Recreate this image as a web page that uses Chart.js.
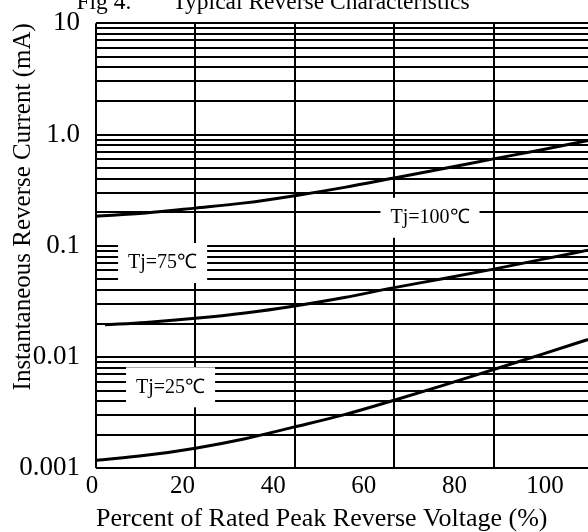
<!DOCTYPE html>
<html><head><meta charset="utf-8">
<script src="https://cdn.jsdelivr.net/npm/chart.js@4"></script>
<style>
html,body{margin:0;padding:0;background:#fff;overflow:hidden;width:588px;height:532px;position:relative}
#wrap{position:absolute;left:0;top:-16px;width:593px;height:550px}
</style></head><body>
<div id="wrap"><canvas id="c"></canvas></div>
<script>
const chartTitle = 'Fig 4.\u00a0\u00a0\u00a0\u00a0\u00a0\u00a0\u00a0Typical Reverse Characteristics\u00a0\u00a0\u00a0\u00a0\u00a0\u00a0\u00a0\u00a0';
const xTitle = 'Percent of Rated Peak Reverse Voltage (%)';
const yTitle = 'Instantaneous Reverse Current (mA)';

const xTickValues = [0, 20, 40, 60, 80, 100];
const xTickLabels = ['0', '20', '40', '60', '80', '100'];
const yTickValues = [0.001, 0.01, 0.1, 1, 10];
const yTickLabels = ['0.001', '0.01', '0.1', '1.0', '10'];

const seriesNames = ['Tj=100℃', 'Tj=75℃', 'Tj=25℃'];
const x100 = [0, 10, 20, 30, 40, 50, 60, 70, 80, 90, 99];
const tj100 = [0.184, 0.197, 0.218, 0.243, 0.282, 0.335, 0.407, 0.494, 0.604, 0.733, 0.883];
const x75 = [1.8, 10, 20, 30, 40, 50, 60, 70, 80, 90, 99];
const tj75 = [0.0195, 0.0205, 0.0223, 0.0249, 0.0288, 0.0343, 0.0421, 0.0508, 0.0617, 0.0759, 0.0914];
const x25 = [0, 10, 20, 30, 40, 50, 60, 70, 80, 90, 99];
const tj25 = [0.00118, 0.00131, 0.00152, 0.00185, 0.00236, 0.00304, 0.0041, 0.0056, 0.00774, 0.0107, 0.0144];

const serif = "'Liberation Serif','Times New Roman',Times,serif";

// grid values of the log axis: 1..9 per decade
const yGrid = [];
for (let d = 0.001; d < 5; d *= 10) for (let m = 1; m <= 9; m++) yGrid.push(+(m * d).toPrecision(3));
yGrid.push(10);

const pts = (xs, ys) => xs.map((x, i) => ({x, y: ys[i]}));

// curve label annotations: [x %, y mA] of the label centre
const labelAnchors = [[67.2, 0.1786], [13.4, 0.0700], [15.0, 0.00535]];
const labelPlugin = {
  id: 'curveLabels',
  beforeDatasetsDraw(chart) {
    const {ctx, scales: {x, y}} = chart;
    ctx.save();
    ctx.font = '20px ' + serif;
    ctx.textAlign = 'center';
    ctx.textBaseline = 'middle';
    seriesNames.forEach((t, i) => {
      const px = x.getPixelForValue(labelAnchors[i][0]);
      const py = y.getPixelForValue(labelAnchors[i][1]);
      const w = ctx.measureText(t).width + 20, h = 40;
      ctx.fillStyle = '#fff';
      ctx.fillRect(px - w / 2, py - h / 2, w, h);
      ctx.fillStyle = '#000';
      ctx.fillText(t, px, py);
    });
    ctx.restore();
  }
};

const lineDs = (label, data) => ({
  label, data, xAxisID: 'x', yAxisID: 'y',
  borderColor: '#000', borderWidth: 3, pointRadius: 0,
  cubicInterpolationMode: 'monotone', fill: false
});

new Chart(document.getElementById('c'), {
  type: 'line',
  data: {
    datasets: [
      lineDs(seriesNames[0], pts(x100, tj100)),
      lineDs(seriesNames[1], pts(x75, tj75)),
      lineDs(seriesNames[2], pts(x25, tj25))
    ]
  },
  options: {
    responsive: true,
    maintainAspectRatio: false,
    animation: false,
    layout: {padding: 0},
    plugins: {
      legend: {display: false},
      tooltip: {enabled: false},
      title: {
        display: true, text: chartTitle, color: '#000',
        font: {family: serif, size: 23.5, weight: 'normal'},
        padding: {top: 5, bottom: 6}
      }
    },
    scales: {
      x: {
        type: 'linear', position: 'bottom', min: 0, max: 100,
        afterBuildTicks: s => { s.ticks = xTickValues.map(v => ({value: v})); },
        grid: {color: '#000', lineWidth: 2, drawTicks: false},
        border: {display: false},
        ticks: {display: false}
      },
      x2: {
        type: 'linear', position: 'bottom', min: 0.883, max: 110.6,
        afterBuildTicks: s => { s.ticks = xTickValues.map(v => ({value: v})); },
        grid: {display: false, drawTicks: false},
        border: {display: false},
        ticks: {
          autoSkip: false, maxRotation: 0, padding: 3, color: '#000',
          font: {family: serif, size: 25},
          callback: v => { const i = xTickValues.indexOf(v); return i >= 0 ? xTickLabels[i] : ''; }
        },
        title: {
          display: true, text: xTitle, color: '#000', align: 'start',
          font: {family: serif, size: 26, lineHeight: 1.1},
          padding: {top: 0, bottom: 1}
        }
      },
      y: {
        type: 'logarithmic', min: 0.001, max: 10,
        afterBuildTicks: s => { s.ticks = yGrid.map(v => ({value: v})); },
        afterFit: s => { s.width = 96; },
        grid: {color: '#000', lineWidth: 2, drawTicks: false},
        border: {display: false},
        ticks: {
          autoSkip: false, padding: 16, color: '#000',
          font: {family: serif, size: 27},
          callback: v => {
            const i = yTickValues.findIndex(t => Math.abs(t - v) < t * 1e-6);
            return i >= 0 ? yTickLabels[i] : '';
          }
        },
        title: {
          display: true, text: yTitle, color: '#000', align: 'end',
          font: {family: serif, size: 25},
          padding: {top: 8.6, bottom: 0}
        }
      }
    }
  },
  plugins: [labelPlugin]
});
</script>
</body></html>
